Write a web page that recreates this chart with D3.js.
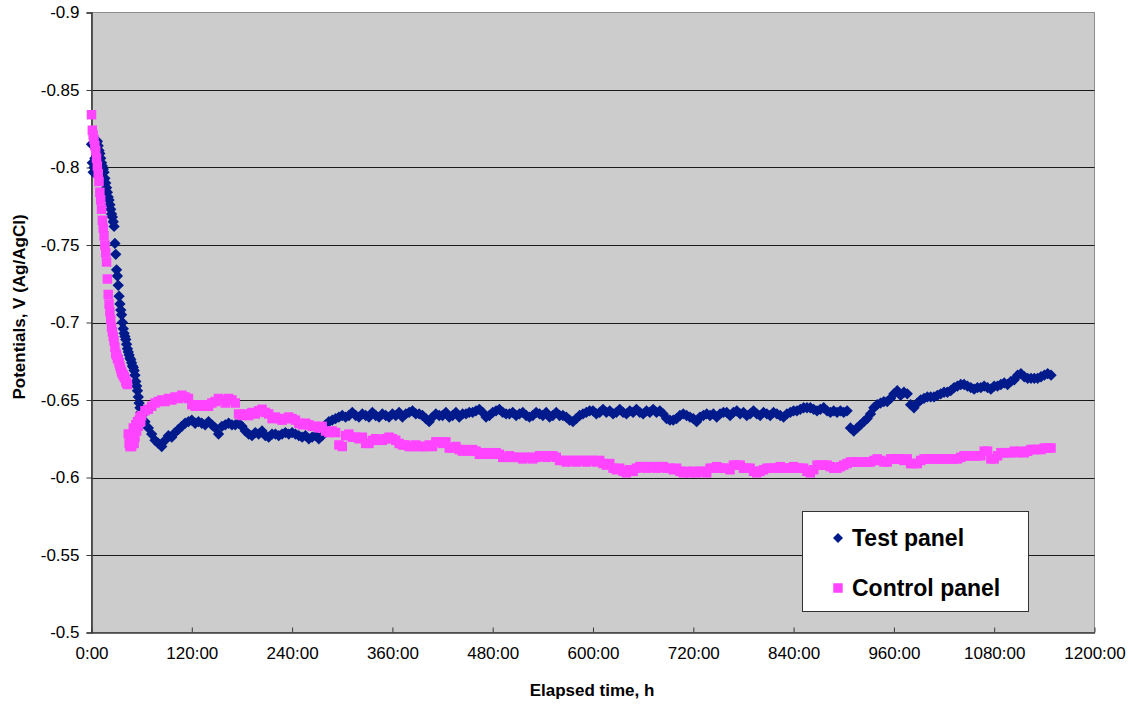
<!DOCTYPE html>
<html>
<head>
<meta charset="utf-8">
<script src="https://cdn.jsdelivr.net/npm/d3@7"></script>
<style>
  html, body { margin: 0; padding: 0; background: #ffffff; }
  svg { display: block; font-family: Arial, "Liberation Sans", Helvetica, sans-serif; }
</style>
</head>
<body>
<svg id="chart" width="1132" height="704"></svg>
<script>
// Logger readings: hourly for the first 60 h, then every 4 h.
const hours = d3.range(0, 60, 1).concat(d3.range(60, 1152, 4));

// Test panel potentials, V vs Ag/AgCl
const testPanel = [
  // 0-59 h
  -0.815, -0.803, -0.797, -0.800, -0.806, -0.812, -0.816, -0.817, -0.814, -0.811,
  -0.809, -0.806, -0.803, -0.801, -0.799, -0.797, -0.793, -0.790, -0.787, -0.784,
  -0.781, -0.779, -0.776, -0.773, -0.770, -0.768, -0.765, -0.762, -0.751, -0.744,
  -0.734, -0.730, -0.724, -0.717, -0.712, -0.708, -0.705, -0.700, -0.696, -0.693,
  -0.691, -0.689, -0.686, -0.683, -0.681, -0.679, -0.677, -0.676, -0.674, -0.672,
  -0.671, -0.669, -0.666, -0.662, -0.659, -0.656, -0.652, -0.648, -0.645, -0.642,
  // 60-96 h
  -0.640, -0.636, -0.632, -0.628, -0.624, -0.622, -0.620, -0.624, -0.627, -0.626,
  // 100-136 h
  -0.629, -0.631, -0.633, -0.635, -0.636, -0.637, -0.635, -0.636, -0.635, -0.634,
  // 140-176 h
  -0.636, -0.634, -0.632, -0.628, -0.633, -0.634, -0.635, -0.634, -0.634, -0.635,
  // 180-216 h
  -0.633, -0.630, -0.628, -0.627, -0.629, -0.628, -0.630, -0.627, -0.626, -0.628,
  // 220-256 h
  -0.628, -0.627, -0.628, -0.629, -0.628, -0.629, -0.628, -0.627, -0.626, -0.627,
  // 260-296 h
  -0.625, -0.626, -0.627, -0.625, -0.627, -0.634, -0.636, -0.637, -0.638, -0.639,
  // 300-336 h
  -0.640, -0.639, -0.640, -0.642, -0.640, -0.639, -0.641, -0.640, -0.639, -0.642,
  // 340-376 h
  -0.640, -0.639, -0.641, -0.640, -0.639, -0.641, -0.640, -0.642, -0.639, -0.641,
  // 380-416 h
  -0.642, -0.643, -0.641, -0.641, -0.640, -0.638, -0.636, -0.639, -0.641, -0.640,
  // 420-456 h
  -0.640, -0.642, -0.639, -0.640, -0.642, -0.639, -0.641, -0.641, -0.642, -0.642,
  // 460-496 h
  -0.643, -0.644, -0.642, -0.639, -0.640, -0.642, -0.643, -0.644, -0.642, -0.641,
  // 500-536 h
  -0.641, -0.642, -0.640, -0.641, -0.642, -0.640, -0.639, -0.640, -0.642, -0.641,
  // 540-576 h
  -0.640, -0.642, -0.639, -0.640, -0.642, -0.640, -0.640, -0.639, -0.637, -0.636,
  // 580-616 h
  -0.638, -0.640, -0.641, -0.642, -0.643, -0.643, -0.641, -0.642, -0.644, -0.642,
  // 620-656 h
  -0.643, -0.641, -0.642, -0.644, -0.642, -0.641, -0.643, -0.642, -0.644, -0.642,
  // 660-696 h
  -0.641, -0.643, -0.642, -0.644, -0.642, -0.643, -0.641, -0.638, -0.637, -0.637,
  // 700-736 h
  -0.638, -0.640, -0.641, -0.640, -0.639, -0.638, -0.636, -0.639, -0.640, -0.641,
  // 740-776 h
  -0.640, -0.641, -0.639, -0.641, -0.642, -0.642, -0.640, -0.642, -0.643, -0.641,
  // 780-816 h
  -0.642, -0.640, -0.641, -0.643, -0.641, -0.640, -0.642, -0.641, -0.640, -0.642,
  // 820-856 h
  -0.641, -0.640, -0.639, -0.641, -0.642, -0.643, -0.643, -0.644, -0.645, -0.645,
  // 860-896 h
  -0.645, -0.644, -0.643, -0.644, -0.645, -0.643, -0.642, -0.643, -0.642, -0.643,
  // 900-936 h
  -0.642, -0.643, -0.632, -0.630, -0.632, -0.634, -0.636, -0.638, -0.641, -0.645,
  // 940-976 h
  -0.647, -0.648, -0.649, -0.649, -0.651, -0.654, -0.656, -0.653, -0.655, -0.654,
  // 980-1016 h
  -0.647, -0.645, -0.648, -0.650, -0.651, -0.652, -0.652, -0.652, -0.653, -0.654,
  // 1020-1056 h
  -0.655, -0.655, -0.656, -0.658, -0.659, -0.660, -0.660, -0.659, -0.658, -0.657,
  // 1060-1096 h
  -0.658, -0.658, -0.659, -0.658, -0.657, -0.659, -0.659, -0.660, -0.661, -0.660,
  // 1100-1136 h
  -0.662, -0.663, -0.666, -0.667, -0.665, -0.664, -0.664, -0.664, -0.664, -0.665,
  // 1140-1148 h
  -0.666, -0.667, -0.666
];

// Control panel potentials, V vs Ag/AgCl
const controlPanel = [
  // 0-59 h
  -0.834, -0.824, -0.821, -0.818, -0.814, -0.811, -0.806, -0.801, -0.796, -0.791,
  -0.784, -0.779, -0.773, -0.766, -0.761, -0.756, -0.750, -0.745, -0.739, -0.728,
  -0.718, -0.712, -0.707, -0.702, -0.697, -0.694, -0.691, -0.688, -0.684, -0.680,
  -0.679, -0.677, -0.676, -0.674, -0.672, -0.670, -0.668, -0.667, -0.666, -0.665,
  -0.664, -0.662, -0.661, -0.660, -0.628, -0.622, -0.620, -0.624, -0.620, -0.628,
  -0.632, -0.622, -0.626, -0.634, -0.630, -0.636, -0.633, -0.637, -0.639, -0.636,
  // 60-96 h
  -0.640, -0.643, -0.644, -0.646, -0.648, -0.649, -0.650, -0.649, -0.651, -0.650,
  // 100-136 h
  -0.652, -0.651, -0.653, -0.652, -0.651, -0.647, -0.646, -0.647, -0.646, -0.647,
  // 140-176 h
  -0.646, -0.648, -0.649, -0.651, -0.650, -0.648, -0.651, -0.650, -0.648, -0.641,
  // 180-216 h
  -0.640, -0.641, -0.640, -0.642, -0.641, -0.643, -0.644, -0.642, -0.641, -0.638,
  // 220-256 h
  -0.639, -0.638, -0.637, -0.638, -0.639, -0.638, -0.637, -0.635, -0.634, -0.635,
  // 260-296 h
  -0.634, -0.633, -0.633, -0.632, -0.633, -0.630, -0.629, -0.630, -0.629, -0.621,
  // 300-336 h
  -0.620, -0.627, -0.628, -0.626, -0.626, -0.625, -0.626, -0.622, -0.622, -0.624,
  // 340-376 h
  -0.625, -0.624, -0.624, -0.625, -0.626, -0.625, -0.624, -0.622, -0.621, -0.621,
  // 380-416 h
  -0.620, -0.620, -0.621, -0.620, -0.620, -0.620, -0.621, -0.620, -0.623, -0.623,
  // 420-456 h
  -0.622, -0.623, -0.619, -0.619, -0.620, -0.618, -0.617, -0.618, -0.617, -0.618,
  // 460-496 h
  -0.617, -0.615, -0.616, -0.615, -0.616, -0.615, -0.616, -0.615, -0.613, -0.613,
  // 500-536 h
  -0.614, -0.613, -0.613, -0.613, -0.612, -0.613, -0.613, -0.612, -0.613, -0.614,
  // 540-576 h
  -0.614, -0.613, -0.614, -0.614, -0.613, -0.611, -0.611, -0.610, -0.611, -0.611,
  // 580-616 h
  -0.610, -0.611, -0.611, -0.610, -0.611, -0.611, -0.610, -0.611, -0.609, -0.608,
  // 620-656 h
  -0.609, -0.606, -0.605, -0.606, -0.604, -0.603, -0.605, -0.604, -0.606, -0.607,
  // 660-696 h
  -0.607, -0.606, -0.607, -0.607, -0.606, -0.607, -0.607, -0.606, -0.606, -0.605,
  // 700-736 h
  -0.606, -0.604, -0.603, -0.604, -0.603, -0.604, -0.603, -0.604, -0.604, -0.603,
  // 740-776 h
  -0.606, -0.606, -0.607, -0.606, -0.606, -0.606, -0.605, -0.608, -0.608, -0.608,
  // 780-816 h
  -0.606, -0.606, -0.606, -0.604, -0.603, -0.604, -0.605, -0.606, -0.606, -0.606,
  // 820-856 h
  -0.606, -0.607, -0.606, -0.606, -0.606, -0.607, -0.606, -0.606, -0.606, -0.604,
  // 860-896 h
  -0.603, -0.605, -0.608, -0.608, -0.608, -0.608, -0.607, -0.606, -0.606, -0.607,
  // 900-936 h
  -0.608, -0.609, -0.610, -0.610, -0.610, -0.610, -0.610, -0.610, -0.610, -0.611,
  // 940-976 h
  -0.612, -0.611, -0.610, -0.610, -0.612, -0.612, -0.612, -0.612, -0.611, -0.612,
  // 980-1016 h
  -0.609, -0.609, -0.609, -0.611, -0.612, -0.612, -0.612, -0.612, -0.612, -0.612,
  // 1020-1056 h
  -0.612, -0.612, -0.612, -0.612, -0.612, -0.613, -0.614, -0.614, -0.614, -0.614,
  // 1060-1096 h
  -0.614, -0.614, -0.617, -0.617, -0.612, -0.612, -0.614, -0.616, -0.616, -0.616,
  // 1100-1136 h
  -0.616, -0.617, -0.616, -0.617, -0.616, -0.617, -0.618, -0.618, -0.618, -0.618,
  // 1140-1148 h
  -0.619, -0.619, -0.619
];

const seriesNames = ["Test panel", "Control panel"];
const seriesColors = ["#001a8c", "#ff44ff"];

const yTickValues = [-0.9, -0.85, -0.8, -0.75, -0.7, -0.65, -0.6, -0.55, -0.5];
const xTickValues = [0, 120, 240, 360, 480, 600, 720, 840, 960, 1080, 1200];
const xTickLabels = ["0:00", "120:00", "240:00", "360:00", "480:00", "600:00",
                     "720:00", "840:00", "960:00", "1080:00", "1200:00"];

const xTitle = "Elapsed time, h";
const yTitle = "Potentials, V (Ag/AgCl)";

// ---- layout ----
const plot = { left: 91.5, top: 12.5, right: 1094.5, bottom: 632.5 };

const svg = d3.select("#chart");

const x = d3.scaleLinear().domain([0, 1200]).range([plot.left, plot.right]);
const y = d3.scaleLinear().domain([-0.9, -0.5]).range([plot.top, plot.bottom]);

// plot background
svg.append("rect")
  .attr("x", plot.left).attr("y", plot.top)
  .attr("width", plot.right - plot.left).attr("height", plot.bottom - plot.top)
  .attr("fill", "#cccccc")
  .attr("stroke", "#8c8c8c").attr("stroke-width", 1);

// horizontal gridlines
svg.append("g")
  .selectAll("line")
  .data(yTickValues.filter(v => v !== -0.9 && v !== -0.5))
  .join("line")
  .attr("x1", plot.left).attr("x2", plot.right)
  .attr("y1", d => Math.round(y(d)) + 0.5).attr("y2", d => Math.round(y(d)) + 0.5)
  .attr("stroke", "#1a1a1a").attr("stroke-width", 1);

// y axis
const yAxis = d3.axisLeft(y)
  .tickValues(yTickValues)
  .tickFormat(d => String(d))
  .tickSize(5)
  .tickPadding(7);
const gy = svg.append("g").attr("transform", `translate(${plot.left},0)`).call(yAxis);
gy.select(".domain").attr("stroke", "#3a3a3a").attr("stroke-width", 1.6);
gy.selectAll(".tick line").attr("stroke", "#3a3a3a");
gy.selectAll(".tick text")
  .attr("font-size", 17).attr("fill", "#000")
  .attr("font-family", "Arial, 'Liberation Sans', sans-serif");

// x axis (ticks drawn inward)
const xAxis = d3.axisBottom(x)
  .tickValues(xTickValues)
  .tickFormat((d, i) => xTickLabels[i])
  .tickSizeInner(-5)
  .tickSizeOuter(0)
  .tickPadding(14);
const gx = svg.append("g").attr("transform", `translate(0,${plot.bottom})`).call(xAxis);
gx.select(".domain").attr("stroke", "#3a3a3a").attr("stroke-width", 1.6);
gx.selectAll(".tick line").attr("stroke", "#3a3a3a");
gx.selectAll(".tick text")
  .attr("font-size", 17).attr("fill", "#000")
  .attr("font-family", "Arial, 'Liberation Sans', sans-serif");

// square-diamond marker (a square rotated 45 degrees)
const diamondMarker = {
  draw(context, size) {
    const r = Math.sqrt(size / 2);
    context.moveTo(0, -r);
    context.lineTo(r, 0);
    context.lineTo(0, r);
    context.lineTo(-r, 0);
    context.closePath();
  }
};

const markerTypes = [diamondMarker, d3.symbolSquare];
const markerSizes = [64, 90];
const seriesValues = [testPanel, controlPanel];

// clip markers to the plot area
svg.append("clipPath").attr("id", "plotClip")
  .append("rect")
  .attr("x", plot.left - 6).attr("y", plot.top)
  .attr("width", plot.right - plot.left + 6).attr("height", plot.bottom - plot.top);

const marks = svg.append("g").attr("clip-path", "url(#plotClip)");

seriesValues.forEach((vals, s) => {
  const sym = d3.symbol().type(markerTypes[s]).size(markerSizes[s]);
  marks.append("g")
    .selectAll("path")
    .data(hours.map((h, i) => ({ h, v: vals[i] })).filter(d => d.v !== undefined))
    .join("path")
    .attr("transform", d => `translate(${x(d.h)},${y(d.v)})`)
    .attr("d", sym)
    .attr("fill", seriesColors[s]);
});

// axis titles
svg.append("text")
  .attr("x", 592)
  .attr("y", 696)
  .attr("text-anchor", "middle")
  .attr("font-size", 17).attr("font-weight", "bold")
  .text(xTitle);

svg.append("text")
  .attr("transform", `translate(25,307) rotate(-90)`)
  .attr("text-anchor", "middle")
  .attr("font-size", 17).attr("font-weight", "bold")
  .text(yTitle);

// legend
const legend = svg.append("g");
legend.append("rect")
  .attr("x", 802.5).attr("y", 511.5)
  .attr("width", 226).attr("height", 100)
  .attr("fill", "#ffffff").attr("stroke", "#333333").attr("stroke-width", 1);

const legendSizes = [50, 90];
seriesNames.forEach((name, i) => {
  const cy = 538 + i * 50;
  legend.append("path")
    .attr("transform", `translate(838,${cy})`)
    .attr("d", d3.symbol().type(markerTypes[i]).size(legendSizes[i]))
    .attr("fill", seriesColors[i]);
  legend.append("text")
    .attr("x", 852).attr("y", cy + 8)
    .attr("font-size", 23).attr("font-weight", "bold")
    .text(name);
});
</script>
</body>
</html>
